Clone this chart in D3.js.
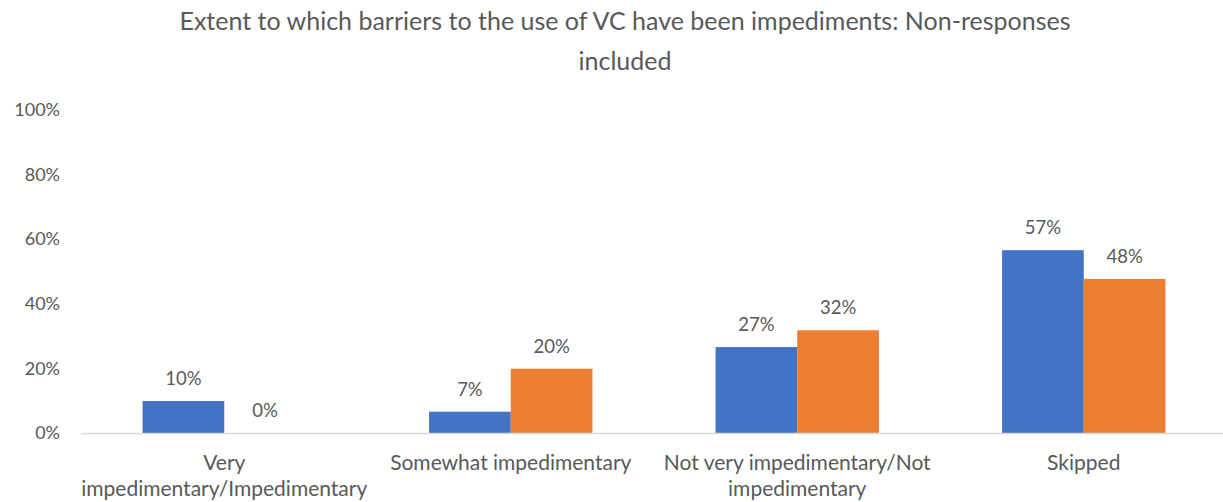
<!DOCTYPE html>
<html><head><meta charset="utf-8">
<script src="https://cdn.jsdelivr.net/npm/d3@7"></script>
<style>body{margin:0;background:#fff}svg{display:block}text{font-family:Lato,"Open Sans",sans-serif;fill:#595959}</style>
</head><body><svg id="c" width="1223" height="502"></svg>
<script>
const categories = ["Very\nimpedimentary/Impedimentary", "Somewhat impedimentary", "Not very impedimentary/Not\nimpedimentary", "Skipped"];
const seriesNames = ["Series A", "Series B"];
const blueValues = [0.099, 0.066, 0.266, 0.566];
const orangeValues = [0.0, 0.199, 0.318, 0.477];
const yTicks = [0, 0.2, 0.4, 0.6, 0.8, 1.0];
const titleLines = ["Extent to which barriers to the use of VC have been impediments: Non-responses", "included"];
const colors = ["#4472C4", "#ED7D31"];

const svg = d3.select("#c");
const x = d3.scaleBand().domain(categories).range([81, 1227]).paddingInner(0.43).paddingOuter(0.215);
const x1 = d3.scaleBand().domain(seriesNames).range([0, x.bandwidth()]);
const y = d3.scaleLinear().domain([0, 1]).range([433, 110]);
const fmt = d3.format(".0%");

svg.append("g").selectAll("text").data(titleLines).join("text")
  .attr("x", 625).attr("y", (d, i) => 30 + i * 40)
  .attr("text-anchor", "middle").style("font-size", "25px").text(d => d);

// y axis labels
const yAxis = d3.axisLeft(y).tickValues(yTicks).tickFormat(d3.format(".0%")).tickSize(0).tickPadding(0);
const gy = svg.append("g").attr("transform", "translate(60,0)").call(yAxis);
gy.select(".domain").remove();
gy.selectAll("text").style("font-size", "18px").attr("fill", "#595959").style("font-family", "Lato");

const data = categories.map((c, i) => ({c, vals: [blueValues[i], orangeValues[i]]}));
const groups = svg.append("g").selectAll("g").data(data).join("g")
  .attr("transform", d => `translate(${x(d.c)},0)`);
groups.selectAll("rect").data(d => d.vals.map((v, j) => ({v, s: seriesNames[j], j}))).join("rect")
  .attr("x", d => x1(d.s)).attr("width", x1.bandwidth())
  .attr("y", d => y(d.v)).attr("height", d => y(0) - y(d.v))
  .attr("fill", d => colors[d.j]);
groups.selectAll("text.v").data(d => d.vals.map((v, j) => ({v, s: seriesNames[j]}))).join("text")
  .attr("class", "v")
  .attr("x", d => x1(d.s) + x1.bandwidth() / 2)
  .attr("y", d => y(d.v) - 16)
  .attr("text-anchor", "middle").style("font-size", "18.5px").text(d => fmt(d.v));

// x axis
const xAxis = d3.axisBottom(x).tickSize(0).tickFormat("");
const gx = svg.append("g").attr("transform", "translate(0,433)").call(xAxis);
gx.select(".domain").attr("stroke", "#D9D9D9").attr("stroke-width", 1.5);
gx.selectAll(".tick").each(function(d) {
  const lines = d.split("\n");
  d3.select(this).append("text").selectAll("tspan").data(lines).join("tspan")
    .attr("x", 0).attr("y", (l, i) => 37 + i * 26)
    .attr("text-anchor", "middle").style("font-size", "21px").attr("fill", "#595959").text(l => l);
});
</script></body></html>
